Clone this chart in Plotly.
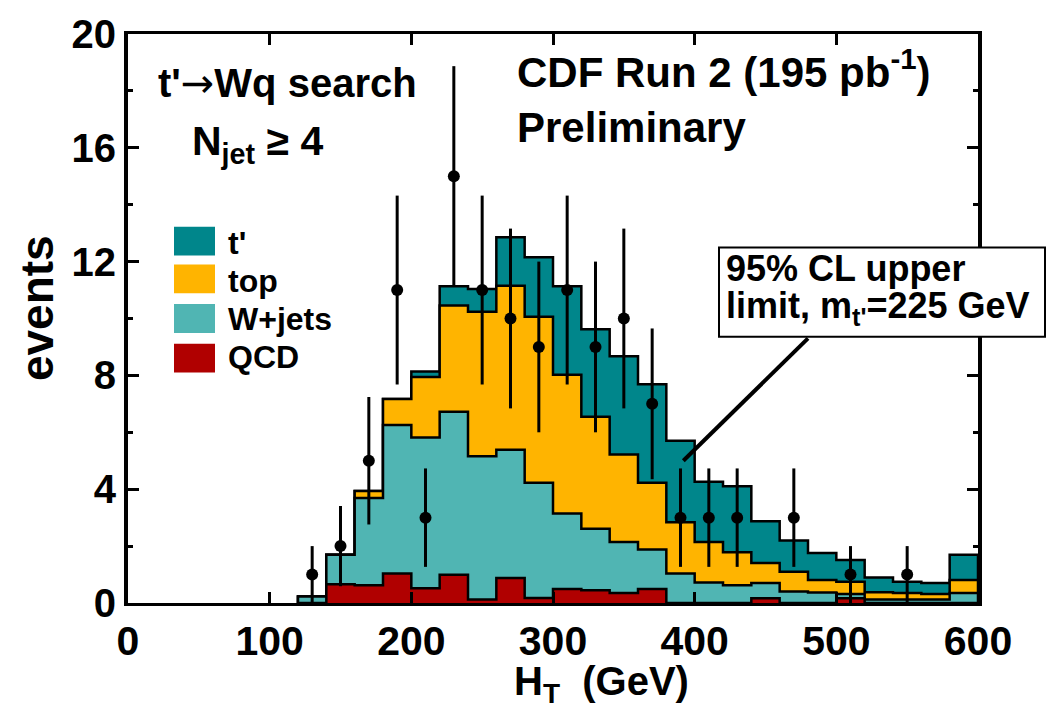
import numpy as np
import plotly.graph_objects as go

# --- H_T histogram, 20 GeV bins from 120 to 600 GeV ---
bin_edges = list(range(120, 620, 20))

# Expected contributions per bin (events)
qcd = [0.00, 0.66, 0.62, 1.04, 0.52, 0.99, 0.12, 0.88, 0.18, 0.49, 0.45, 0.35,
       0.49, 0.00, 0.00, 0.00, 0.17, 0.00, 0.00, 0.17, 0.00, 0.00, 0.00, 0.00]
wjets = [0.23, 1.04, 3.07, 5.22, 5.30, 5.73, 5.04, 4.51, 4.05, 2.66, 2.16, 1.79,
         1.39, 1.04, 0.72, 0.62, 0.53, 0.40, 0.37, 0.15, 0.12, 0.12, 0.12, 0.35]
top = [0.00, 0.00, 0.25, 0.91, 2.12, 3.74, 5.08, 5.76, 5.83, 4.87, 3.94, 3.08,
       2.35, 1.80, 1.42, 1.16, 0.71, 0.70, 0.44, 0.43, 0.26, 0.23, 0.20, 0.46]
tprime = [0.00, 0.00, 0.00, 0.00, 0.20, 0.67, 0.80, 1.71, 2.09, 3.11, 3.07, 3.45,
          3.46, 2.86, 2.12, 2.32, 1.46, 1.10, 0.95, 0.76, 0.52, 0.40, 0.38, 0.89]

# Observed data
data_x = [130, 150, 170, 190, 210, 230, 250, 270, 290, 310, 330, 350, 370,
          390, 410, 430, 470, 510, 550]
data_n = [1, 2, 5, 11, 3, 15, 11, 10, 9, 11, 9, 10, 7, 3, 3, 3, 3, 1, 1]
data_err = [1.00, 1.41, 2.24, 3.32, 1.73, 3.87, 3.32, 3.16, 3.00, 3.32, 3.00,
            3.16, 2.65, 1.73, 1.73, 1.73, 1.73, 1.00, 1.00]

x_ticks = [0, 100, 200, 300, 400, 500, 600]
y_ticks = [0, 4, 8, 12, 16, 20]

C_TPRIME = "#00868B"
C_TOP = "#FFB400"
C_WJETS = "#50B5B3"
C_QCD = "#B00000"

FONT = "Liberation Sans, Arial, Helvetica, sans-serif"

layers = [("QCD", qcd, C_QCD), ("W+jets", wjets, C_WJETS),
          ("top", top, C_TOP), ("t'", tprime, C_TPRIME)]
stacked = np.cumsum(np.array([l[1] for l in layers]), axis=0)

fig = go.Figure()


def step_outline(heights):
    h = list(heights)
    xs = [bin_edges[0]] + bin_edges[:-1] + [bin_edges[-1], bin_edges[-1]]
    ys = [0.0] + h + [h[-1], 0.0]
    return xs, ys


# draw the tallest cumulative layer first so lower layers paint over it
for idx in reversed(range(len(layers))):
    name, _, color = layers[idx]
    xs, ys = step_outline(stacked[idx])
    fig.add_trace(go.Scatter(
        x=xs, y=ys, mode="lines", line=dict(shape="hv", color="black", width=2.5),
        fill="tozeroy", fillcolor=color, name=name, showlegend=False,
        hoverinfo="skip"))

fig.add_trace(go.Scatter(
    x=data_x, y=data_n, mode="markers", name="data", showlegend=False,
    marker=dict(color="black", size=12),
    error_y=dict(type="data", array=data_err, visible=True,
                 color="black", thickness=3, width=0)))

W, H = 1054, 709
ML, MR, MT, MB = 128, 76, 30, 106
PW, PH = W - ML - MR, H - MT - MB


def px(xp):
    return (xp - ML) / PW


def py(yp):
    return (H - MB - yp) / PH


annotations = []
shapes = []


def label(text, xp, yp, size, xanchor="left", **kw):
    annotations.append(dict(
        text=text, xref="paper", yref="paper", x=px(xp), y=py(yp),
        xanchor=xanchor, yanchor="middle", showarrow=False,
        font=dict(family=FONT, size=size, color="black", weight="bold"), **kw))


ARROW = ("<span style=\"font-family:'DejaVu Sans';font-weight:normal\">"
         "\u2192</span>")

# header texts
label("t'" + ARROW + "Wq search", 156, 79, 40)
label("N<sub>jet</sub> \u2265 4", 190, 141, 41)
label("CDF Run 2 (195 pb<sup>-1</sup>)", 515, 65, 42)
label("Preliminary", 515, 124, 42)

# legend
legend_rows = [("t'", C_TPRIME, 224, 240), ("top", C_TOP, 262, 279),
               ("W+jets", C_WJETS, 302, 317), ("QCD", C_QCD, 342, 355)]
for text, color, top_px, text_y in legend_rows:
    shapes.append(dict(type="rect", xref="paper", yref="paper",
                       x0=px(174), x1=px(215), y0=py(top_px + 29), y1=py(top_px),
                       fillcolor=color, line=dict(width=0)))
    label(text, 226, text_y, 32)

# axis titles
label("events", 37, 306, 46, xanchor="center", textangle=-90)
label("H<sub>T</sub>\u00a0\u00a0(GeV)", 601, 685, 40, xanchor="center")

# limit box with pointer line
shapes.append(dict(type="rect", xref="paper", yref="paper",
                   x0=px(719), x1=px(1045), y0=py(335), y1=py(245),
                   fillcolor="white", line=dict(color="black", width=2),
                   layer="above"))
label("95% CL upper", 724, 266, 36)
label("limit, m<sub>t'</sub>=225 GeV", 724, 306, 36)
shapes.append(dict(type="line", xref="x", yref="y", x0=392, y0=5.0, x1=480, y1=9.3,
                   line=dict(color="black", width=4), layer="above"))

fig.update_layout(
    width=W, height=H, margin=dict(l=ML, r=MR, t=MT, b=MB),
    paper_bgcolor="white", plot_bgcolor="white", showlegend=False,
    font=dict(family=FONT, color="black", weight="bold"),
    annotations=annotations, shapes=shapes)

fig.update_xaxes(
    range=[0, 600], tickvals=x_ticks, ticks="inside", ticklen=11, tickwidth=2.5,
    tickcolor="black", showline=True, linewidth=3, linecolor="black",
    mirror="ticks", showgrid=False, zeroline=False,
    tickfont=dict(family=FONT, size=41, color="black", weight="bold"))
fig.update_yaxes(
    range=[0, 20], tickvals=y_ticks, ticks="inside", ticklen=11, tickwidth=2.5,
    tickcolor="black", showline=True, linewidth=4, linecolor="black",
    mirror="ticks", showgrid=False, zeroline=False,
    minor=dict(dtick=2, tick0=0, ticks="inside", ticklen=5, tickwidth=2.5,
               tickcolor="black", showgrid=False),
    tickfont=dict(family=FONT, size=40, color="black", weight="bold"))

fig.write_html("out.html")
